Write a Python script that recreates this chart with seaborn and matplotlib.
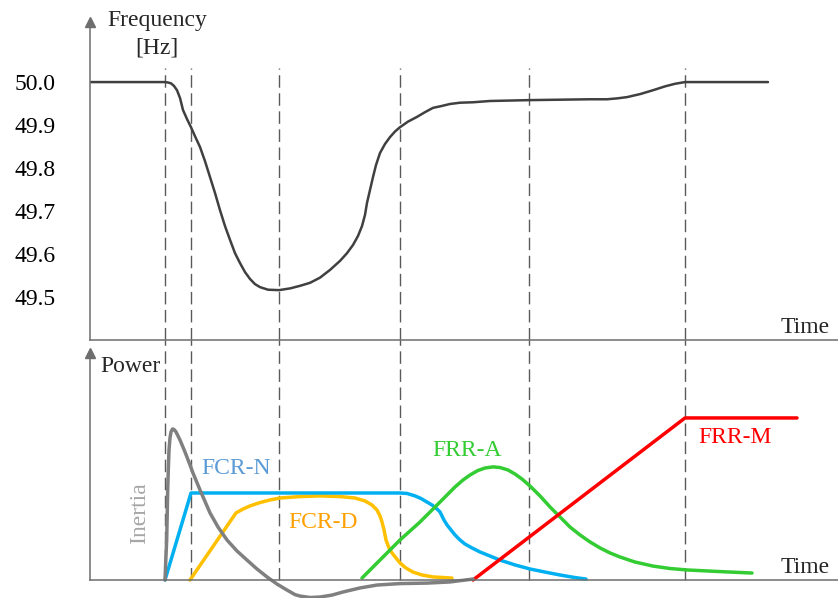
import matplotlib
matplotlib.use("Agg")
import matplotlib.pyplot as plt
import pandas as pd
import seaborn as sns

# ---------------- data ----------------
event_times = [75, 101, 189, 310, 439, 595]

freq_t = [0, 70, 75, 78, 81, 84, 87, 90, 93, 97, 101, 105, 110, 115, 120,
          125, 130, 135, 140, 145, 150, 155, 160, 165, 170, 178, 189, 200,
          210, 220, 230, 240, 250, 257, 263, 268, 272, 275, 277, 280, 283,
          286, 290, 295, 300, 305, 310, 318, 327, 335, 343, 351, 360, 370,
          383, 400, 420, 439, 470, 500, 517, 527, 537, 550, 563, 575, 585,
          590, 595, 678]
freq_hz = [50.000, 50.000, 50.000, 49.999, 49.997, 49.991, 49.981, 49.963,
           49.935, 49.914, 49.895, 49.874, 49.849, 49.816, 49.779, 49.742,
           49.702, 49.665, 49.633, 49.602, 49.579, 49.558, 49.542, 49.530,
           49.523, 49.517, 49.516, 49.520, 49.526, 49.533, 49.545, 49.563,
           49.584, 49.602, 49.621, 49.642, 49.665, 49.691, 49.719, 49.749,
           49.779, 49.807, 49.835, 49.856, 49.872, 49.885, 49.895, 49.908,
           49.919, 49.930, 49.940, 49.944, 49.949, 49.952, 49.953, 49.956,
           49.957, 49.958, 49.959, 49.960, 49.960, 49.962, 49.965, 49.972,
           49.981, 49.990, 49.996, 49.998, 50.000, 50.000]
freq_ticks = [49.5, 49.6, 49.7, 49.8, 49.9, 50.0]

inertia_t = [75, 75.8, 76.7, 77.2, 77.7, 78.3, 79, 80, 81, 82.5, 84, 86, 88,
             90, 95, 100, 103, 110, 120, 128, 137, 147, 157, 167, 177, 187,
             197, 205, 210, 220, 230, 242, 253, 270, 287, 310, 337, 360, 383]
inertia_p = [0.0, 0.123, 0.247, 0.401, 0.556, 0.679, 0.802, 0.877, 0.914,
             0.932, 0.929, 0.914, 0.889, 0.864, 0.790, 0.710, 0.660, 0.556,
             0.414, 0.327, 0.247, 0.179, 0.123, 0.068, 0.019, -0.025,
             -0.062, -0.090, -0.099, -0.108, -0.105, -0.093, -0.074, -0.049,
             -0.031, -0.022, -0.019, -0.012, 0.006]

fcrn_t = [75, 101, 310, 317, 325, 331, 337, 342, 347, 350, 352, 354, 357,
          361, 365, 370, 375, 382, 390, 400, 410, 425, 440, 455, 470, 485,
          496]
fcrn_p = [0.0, 0.537, 0.537, 0.534, 0.519, 0.503, 0.481, 0.463, 0.438,
          0.420, 0.395, 0.370, 0.340, 0.309, 0.278, 0.247, 0.222, 0.198,
          0.173, 0.148, 0.123, 0.093, 0.068, 0.049, 0.031, 0.015, 0.006]

fcrd_t = [100, 146, 153, 160, 170, 180, 190, 210, 230, 250, 265, 275, 282,
          287, 290, 292, 294, 296, 299, 302, 306, 310, 316, 323, 332, 343,
          362]
fcrd_p = [0.0, 0.414, 0.438, 0.457, 0.478, 0.494, 0.506, 0.515, 0.519,
          0.515, 0.506, 0.488, 0.463, 0.432, 0.395, 0.358, 0.309, 0.247,
          0.198, 0.167, 0.136, 0.105, 0.074, 0.049, 0.031, 0.019, 0.012]

frra_t = [272, 310, 330, 350, 365, 373, 380, 388, 395, 403, 410, 418, 425,
          432, 440, 450, 460, 470, 480, 490, 500, 510, 520, 530, 545, 563,
          580, 597, 630, 662]
frra_p = [0.012, 0.247, 0.358, 0.481, 0.574, 0.617, 0.648, 0.676, 0.691,
          0.698, 0.694, 0.679, 0.654, 0.623, 0.580, 0.519, 0.451, 0.389,
          0.327, 0.278, 0.235, 0.198, 0.167, 0.142, 0.111, 0.086, 0.071,
          0.062, 0.052, 0.043]

frrm_t = [383, 595, 707]
frrm_p = [0.0, 1.0, 1.0]

# ---------------- style ----------------
sns.set_style("white")
plt.rcParams['font.family'] = ['Liberation Serif', 'DejaVu Serif']
plt.rcParams['font.size'] = 17

SPINE = "#6e6e6e"
DASH = "#5a5a5a"

fig = plt.figure(figsize=(8.38, 5.98), dpi=100)
ax1 = fig.add_axes([90 / 838, 1 - 340 / 598, 748 / 838, 328 / 598])
ax2 = fig.add_axes([90 / 838, 0, 748 / 838, 258 / 598])
for ax in (ax1, ax2):
    ax.patch.set_alpha(0)
    ax.set_xlim(0, 748)
    for s in ("top", "right"):
        ax.spines[s].set_visible(False)
    for s in ("left", "bottom"):
        ax.spines[s].set_color(SPINE)
        ax.spines[s].set_linewidth(1.1)
    ax.set_xticks([])

# ---------- top: frequency ----------
ax1.set_ylim(49.4, 50.163)
ax1.spines["left"].set_bounds(49.4, 50.14)
ax1.plot(0, 50.14, marker="^", ms=7, color=SPINE, clip_on=False)
ax1.vlines(event_times, 49.4, 50.033, colors=DASH, linewidth=1.0,
           linestyles=(0, (9, 4)))
freq_df = pd.DataFrame({"t": freq_t, "f": freq_hz})
sns.lineplot(data=freq_df, x="t", y="f", ax=ax1, color="#404040",
             linewidth=1.8, sort=False, estimator=None)
ax1.set_yticks(freq_ticks)
ax1.set_yticklabels([f"{v:.1f}" for v in freq_ticks])
ax1.tick_params(axis="y", direction="out", length=10, width=1.0,
                color=SPINE, pad=15, labelsize=17, labelcolor="black")
ax1.set_xlabel("")
ax1.set_ylabel("")
ax1.text(67, 50.144, "Frequency", ha="center", va="center", fontsize=17)
ax1.text(67, 50.079, "[Hz]", ha="center", va="center", fontsize=17)
ax1.text(715, 49.428, "Time", ha="center", va="center", fontsize=17)

# ---------- bottom: power ----------
ax2.set_ylim(-0.111, 1.481)
ax2.set_yticks([])
ax2.spines["bottom"].set_position(("data", 0))
ax2.spines["left"].set_bounds(0, 1.40)
ax2.plot(0, 1.40, marker="^", ms=7, color=SPINE, clip_on=False)
ax2.vlines(event_times, 0, 1.481, colors=DASH, linewidth=1.0,
           linestyles=(0, (9, 4)))

series = [
    (fcrd_t, fcrd_p, "#FFC000"),
    (fcrn_t, fcrn_p, "#00B0F0"),
    (frra_t, frra_p, "#33CC33"),
    (frrm_t, frrm_p, "#FF0000"),
    (inertia_t, inertia_p, "#808080"),
]
for t, p, c in series:
    sns.lineplot(x=t, y=p, ax=ax2, color=c, linewidth=2.5, sort=False,
                 estimator=None, solid_joinstyle="round")
ax2.set_xlabel("")
ax2.set_ylabel("")

ax2.text(10, 1.315, "Power", ha="left", va="center", fontsize=17)
ax2.text(146, 0.685, "FCR-N", ha="center", va="center", fontsize=17,
         color="#5B9BD5")
ax2.text(233, 0.352, "FCR-D", ha="center", va="center", fontsize=17,
         color="#FFA000")
ax2.text(377, 0.80, "FRR-A", ha="center", va="center", fontsize=17,
         color="#33CC33")
ax2.text(645, 0.88, "FRR-M", ha="center", va="center", fontsize=17,
         color="#FF0000")
ax2.text(50, 0.41, "Inertia", ha="center", va="center", fontsize=17,
         color="#A6A6A6", rotation=90)
ax2.text(715, 0.08, "Time", ha="center", va="center", fontsize=17)

fig.savefig("out.png", dpi=100)
